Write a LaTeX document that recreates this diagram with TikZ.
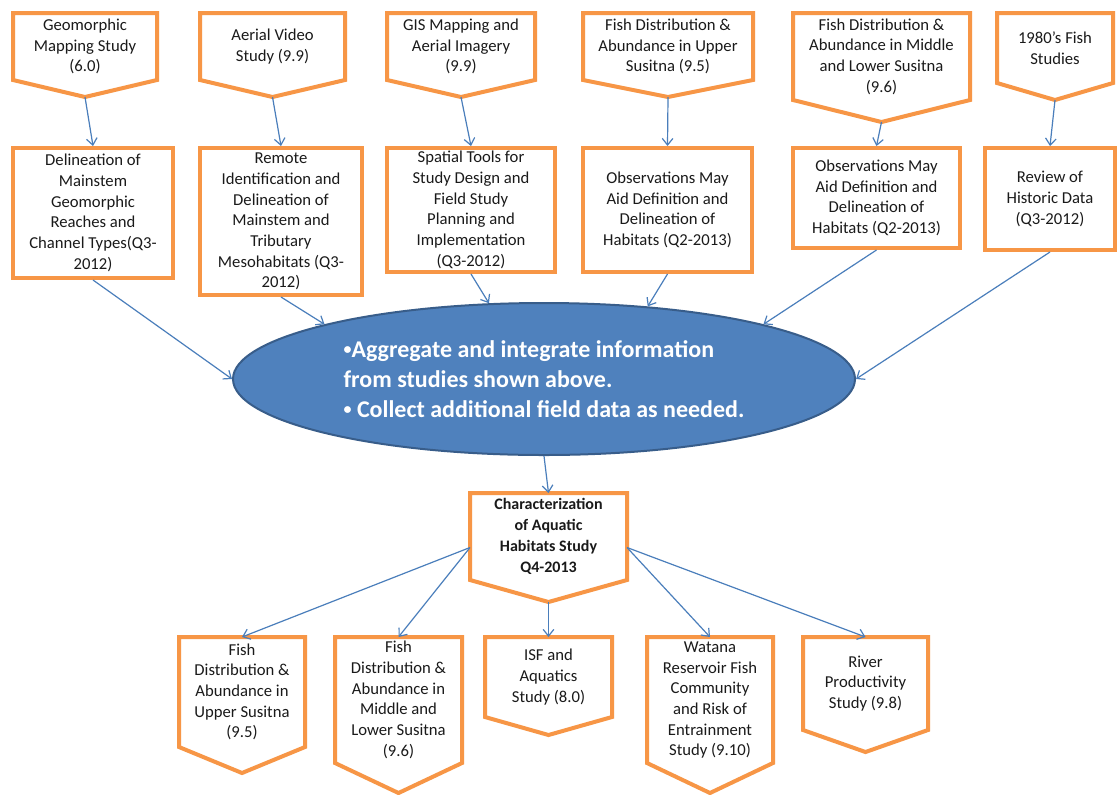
\documentclass[tikz,border=0pt]{standalone}
\usepackage{fontspec}
\setmainfont{Carlito}
\usetikzlibrary{arrows.meta,shapes.geometric}
\definecolor{boxorange}{HTML}{F79646}
\definecolor{arrowblue}{HTML}{4A7EBB}
\definecolor{ellfill}{HTML}{4F81BD}
\definecolor{elldraw}{HTML}{385D8A}
\definecolor{txtcol}{HTML}{1A1A1A}

\tikzset{
  pentarea/.style={rectangle, draw=none, inner sep=0pt, outer sep=0pt},
  boxline/.style={draw=boxorange, line width=3pt, fill=white, line join=miter},
  boxtext/.style={align=center, inner sep=0pt, text=txtcol, font=\fontsize{12.5}{15.5}\selectfont},
  boldtext/.style={font=\bfseries\fontsize{12}{15.8}\selectfont},
  rectbox/.style={rectangle, draw=boxorange, line width=3pt, fill=white, inner sep=0pt,
                  align=center, text=txtcol, font=\fontsize{12.5}{15.5}\selectfont},
  ellbox/.style={ellipse, draw=elldraw, line width=1.5pt, fill=ellfill, inner sep=0pt,
                 text=white, align=left, font=\bfseries\fontsize{18}{22.5}\selectfont},
  conn/.style={draw=arrowblue, line width=0.9pt, -{Straight Barb[length=5pt,width=8pt]}}
}

\newcommand\smallbullet{\raisebox{0.12em}{\fontsize{12}{12}\selectfont •}}

% [style] name xl xr ytop yshoulder ytip text
\newcommand\pentnode[8][]{%
  \node[pentarea, minimum width={0.75pt*(#4-#3)}, minimum height={0.75pt*(#7-#5)}]
    (#2) at ({(#3+#4)/2},{(#5+#7)/2}) {};
  \draw[boxline] (#2.north west) -- (#2.north east) -- (#2.north east |- 0,#6)
     -- (#2.south) -- (#2.north west |- 0,#6) -- cycle;
  \node[boxtext,#1] (#2-t) at ({(#3+#4)/2},{(#5+#6)/2}) {#8};
}
% name xl xr ytop ybottom text
\newcommand\rectnode[6]{%
  \node[rectbox, minimum width={0.75pt*(#3-#2)}, minimum height={0.75pt*(#5-#4)}]
    (#1) at ({(#2+#3)/2},{(#4+#5)/2}) {#6};
}

\begin{document}
\begin{tikzpicture}[x=0.75pt,y=-0.75pt]
\useasboundingbox (0,0) rectangle (1117,794);
\fill[white] (0,0) rectangle (1117,794);

% top row
\pentnode{t1}{13}{157}{13}{80}{97}{Geomorphic\\Mapping Study\\(6.0)}
\pentnode{t2}{200}{345}{13}{80}{97}{Aerial Video\\Study (9.9)}
\pentnode{t3}{387}{535}{13}{80}{97}{GIS Mapping and\\Aerial Imagery\\(9.9)}
\pentnode{t4}{583}{753}{13}{80}{97}{Fish Distribution \&\\Abundance in Upper\\Susitna (9.5)}
\pentnode{t5}{793}{970}{13}{100}{122}{Fish Distribution \&\\Abundance in Middle\\and Lower Susitna\\(9.6)}
\pentnode{t6}{997}{1113}{13}{83}{100}{1980’s Fish\\Studies}

% second row
\rectnode{r1}{13}{173}{148}{278}{Delineation of\\Mainstem\\Geomorphic\\Reaches and\\Channel Types(Q3-\\2012)}
\rectnode{r2}{200}{362}{148}{295}{Remote\\Identification and\\Delineation of\\Mainstem and\\Tributary\\Mesohabitats (Q3-\\2012)}
\rectnode{r3}{387}{555}{148}{272}{Spatial Tools for\\Study Design and\\Field Study\\Planning and\\Implementation\\(Q3-2012)}
\rectnode{r4}{583}{752}{148}{272}{Observations May\\Aid Definition and\\Delineation of\\Habitats (Q2-2013)}
\rectnode{r5}{793}{960}{148}{248}{Observations May\\Aid Definition and\\Delineation of\\Habitats (Q2-2013)}
\rectnode{r6}{985}{1115}{148}{250}{Review of\\Historic Data\\(Q3-2012)}

% ellipse
\node[ellbox, minimum width=466.5pt, minimum height=114pt] (el) at (544,379)
  {\smallbullet Aggregate and integrate information\\from studies shown above.\\\smallbullet\ Collect additional field data as needed.};

% characterization
\pentnode[boldtext]{ch}{470}{627}{493}{580}{602}{Characterization\\of Aquatic\\Habitats Study\\Q4-2013}

% bottom row
\pentnode{b1}{179}{305}{637}{747}{773}{Fish\\Distribution \&\\Abundance in\\Upper Susitna\\(9.5)}
\pentnode{b2}{335}{462}{637}{763}{793}{Fish\\Distribution \&\\Abundance in\\Middle and\\Lower Susitna\\(9.6)}
\pentnode{b3}{485}{612}{637}{717}{735}{ISF and\\Aquatics\\Study (8.0)}
\pentnode{b4}{647}{773}{637}{763}{793}{Watana\\Reservoir Fish\\Community\\and Risk of\\Entrainment\\Study (9.10)}
\pentnode{b5}{803}{928}{637}{730}{752}{River\\Productivity\\Study (9.8)}

% connectors top -> second row
\draw[conn] (t1.south) -- (r1.north);
\draw[conn] (t2.south) -- (r2.north);
\draw[conn] (t3.south) -- (r3.north);
\draw[conn] (t4.south) -- (r4.north);
\draw[conn] (t5.south) -- (r5.north);
\draw[conn] (t6.south) -- (r6.north);

% second row -> ellipse
\draw[conn] (r1.south) -- (el.west);
\draw[conn] (r2.south) -- (el.166);
\draw[conn] (r3.south) -- (el.126);
\draw[conn] (r4.south) -- (el.35);
\draw[conn] (r5.south) -- (el.14);
\draw[conn] (r6.south) -- (el.east);

% ellipse -> characterization
\draw[conn] (el.south) -- (ch.north);

% characterization -> bottom row
\draw[conn] (ch.west) -- (b1.north);
\draw[conn] (ch.west) -- (b2.north);
\draw[conn] (ch.south) -- (b3.north);
\draw[conn] (ch.east) -- (b4.north);
\draw[conn] (ch.east) -- (b5.north);
\end{tikzpicture}
\end{document}
